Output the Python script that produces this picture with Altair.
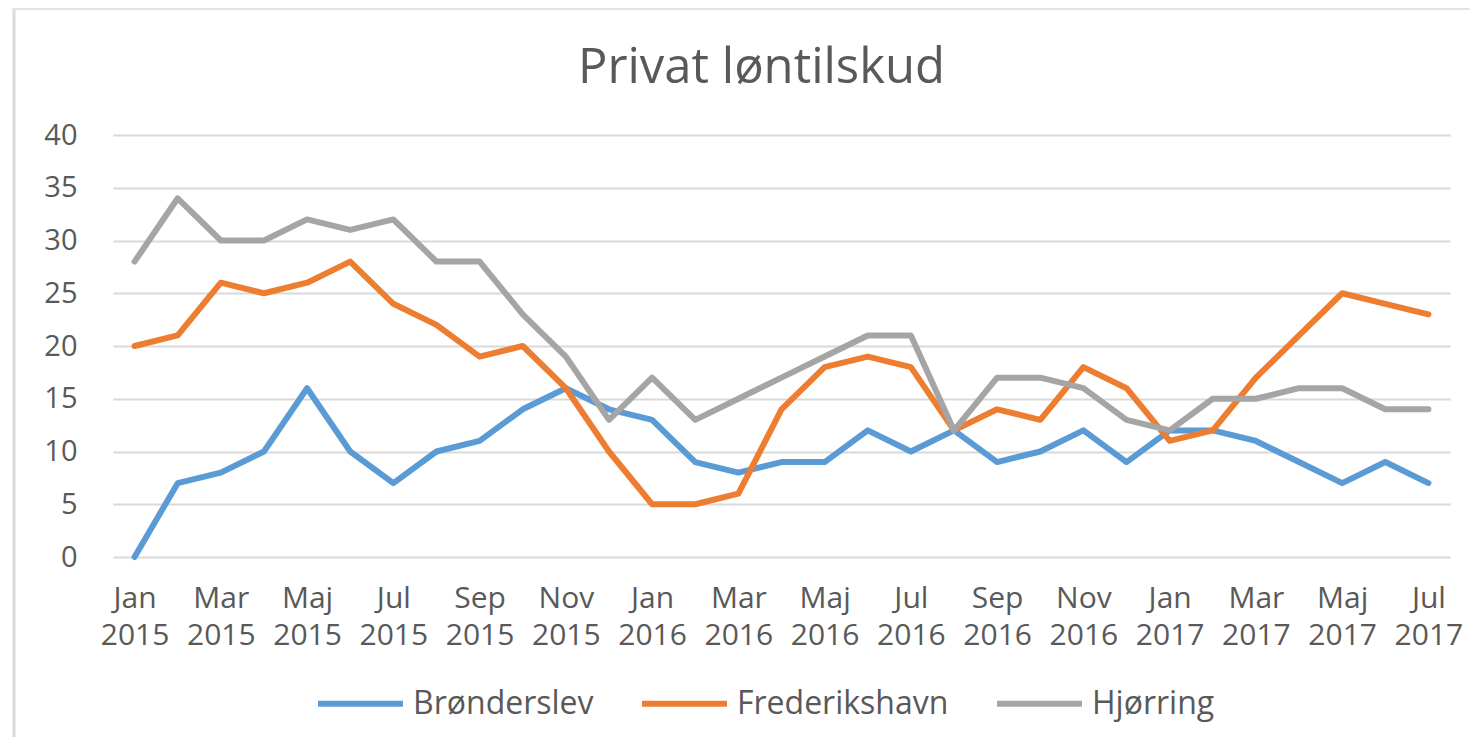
import altair as alt
import pandas as pd

month_names = ["Jan", "Feb", "Mar", "Apr", "Maj", "Jun", "Jul", "Aug", "Sep", "Okt", "Nov", "Dec"]
months = [f"{m} {y}" for y in (2015, 2016, 2017) for m in month_names][:31]

series_names = ["Brønderslev", "Frederikshavn", "Hjørring"]
bronderslev = [0, 7, 8, 10, 16, 10, 7, 10, 11, 14, 16, 14,
               13, 9, 8, 9, 9, 12, 10, 12, 9, 10, 12, 9,
               12, 12, 11, 9, 7, 9, 7]
frederikshavn = [20, 21, 26, 25, 26, 28, 24, 22, 19, 20, 16, 10,
                 5, 5, 6, 14, 18, 19, 18, 12, 14, 13, 18, 16,
                 11, 12, 17, 21, 25, 24, 23]
hjorring = [28, 34, 30, 30, 32, 31, 32, 28, 28, 23, 19, 13,
            17, 13, 15, 17, 19, 21, 21, 12, 17, 17, 16, 13,
            12, 15, 15, 16, 16, 14, 14]
colors = ["#5b9bd5", "#ed7d31", "#a5a5a5"]
y_ticks = [0, 5, 10, 15, 20, 25, 30, 35, 40]
x_label_values = months[::2]

rows = []
for name, vals in zip(series_names, [bronderslev, frederikshavn, hjorring]):
    for m, v in zip(months, vals):
        rows.append({"Måned": m, "Kommune": name, "Antal": v})
df = pd.DataFrame(rows)

FONT = "Open Sans"
TXT = "#595959"
GRID = "#d9d9d9"

lines = alt.Chart(df).mark_line(strokeWidth=6, strokeCap="round", strokeJoin="round").encode(
    x=alt.X("Måned:O", sort=months,
            scale=alt.Scale(type="point", padding=0.5),
            axis=alt.Axis(title=None, values=x_label_values, labelAngle=0,
                          labelExpr="split(datum.value, ' ')",
                          labelFontSize=30, labelFont=FONT, labelColor=TXT,
                          labelLineHeight=37, labelPadding=26, labelBaseline="top",
                          ticks=False, domain=False, grid=False)),
    y=alt.Y("Antal:Q", scale=alt.Scale(domain=[0, 40], nice=False),
            axis=alt.Axis(title=None, values=y_ticks, labelFontSize=29, labelFont=FONT,
                          labelColor=TXT, labelPadding=36, ticks=False, domain=False,
                          grid=True, gridColor=GRID, gridWidth=2)),
    color=alt.Color("Kommune:N", sort=series_names,
                    scale=alt.Scale(domain=series_names, range=colors),
                    legend=alt.Legend(title=None, orient="none", direction="horizontal",
                                      columns=3, legendX=202, legendY=523,
                                      symbolType="stroke", symbolSize=7225,
                                      symbolStrokeWidth=6, labelFontSize=32,
                                      labelFont=FONT, labelColor=TXT, labelOffset=7,
                                      labelLimit=400, columnPadding=36, padding=0)),
)

frame = pd.DataFrame({"k": [0]})
left_border = alt.Chart(frame).mark_rule(color=GRID, strokeWidth=3).encode(
    x=alt.value(-99), y=alt.value(-127), y2=alt.value(620))
top_border = alt.Chart(frame).mark_rule(color="#e3e3e3", strokeWidth=2).encode(
    x=alt.value(-100), x2=alt.value(1370), y=alt.value(-126))

chart = alt.layer(left_border, top_border, lines).properties(
    width=1337, height=422,
    title=alt.TitleParams("Privat løntilskud", fontSize=49, font=FONT, color=TXT,
                          fontWeight="normal", anchor="middle", dx=-20, offset=-86),
    autosize=alt.AutoSizeParams(type="none"),
    padding={"left": 105, "top": 127, "right": 20, "bottom": 180},
).configure(background="white").configure_view(stroke=None)

chart.save("out.html", embed_options={"renderer": "svg", "actions": False})
